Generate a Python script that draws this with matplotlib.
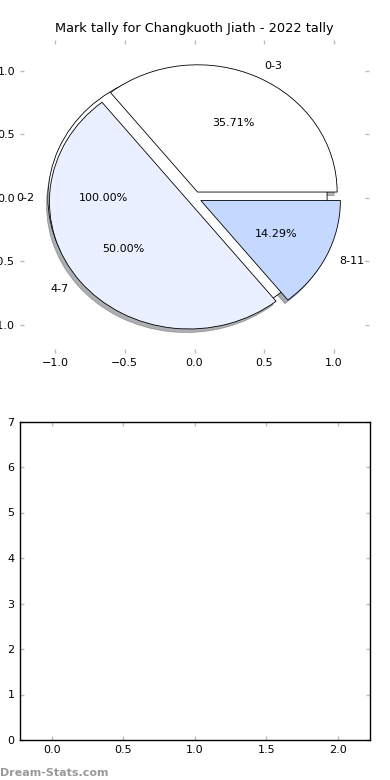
import matplotlib
matplotlib.use("Agg")
import matplotlib.pyplot as plt

# tally data
labels = ["0-3", "4-7", "8-11"]
counts = [5, 7, 2]
colors = ["#ffffff", "#eaf0ff", "#c5d8ff"]

labels2 = ["0-2"]
counts2 = [1]

title = "Mark tally for Changkuoth Jiath - 2022 tally"

bar_xlim = (-0.225, 2.225)
bar_ylim = (0, 7)

matplotlib.rcParams.update({'font.size': 8})

fig = plt.figure(figsize=(3.9, 7.8), dpi=100)

ax1 = fig.add_axes([20/390, 427/780, 349/390, 313/780])
ax2 = fig.add_axes([19.5/390, 40/780, 350.5/390, 318.5/780])

wp = {"edgecolor": "black", "linewidth": 0.6}

# second pie sits underneath the first one
ax1.pie(counts2, labels=labels2, colors=colors, explode=[0.05], startangle=0,
        autopct="%.2f%%", shadow=False, wedgeprops=wp, frame=True)
ax1.pie(counts, labels=labels, colors=colors, explode=[0.05]*3, startangle=0,
        autopct="%.2f%%", shadow={"ox": -0.015, "oy": -0.02, "shade": 0.6},
        wedgeprops=wp, frame=True)

ax1.set_aspect("auto")
ax1.set_xlim(-1.25, 1.25)
ax1.set_ylim(-1.22, 1.24)
ax1.set_xticks([-1.0, -0.5, 0.0, 0.5, 1.0])
ax1.set_yticks([-1.0, -0.5, 0.0, 0.5, 1.0])
ax1.set_frame_on(False)
ax1.set_title(title, fontsize=9.3)

for ax in (ax1, ax2):
    ax.tick_params(direction="in", color="#bbbbbb", length=3, width=1,
                   top=True, right=True, labelsize=8)

ax2.set_xlim(bar_xlim)
ax2.set_ylim(bar_ylim)
ax2.set_xticks([0.0, 0.5, 1.0, 1.5, 2.0])
ax2.set_yticks(range(0, 8))
for s in ax2.spines.values():
    s.set_linewidth(1)

fig.text(0.0, 0.003, "Dream-Stats.com", fontsize=8, color="#999999",
         fontweight="bold", ha="left", va="bottom")

fig.savefig("out.png", dpi=100)
